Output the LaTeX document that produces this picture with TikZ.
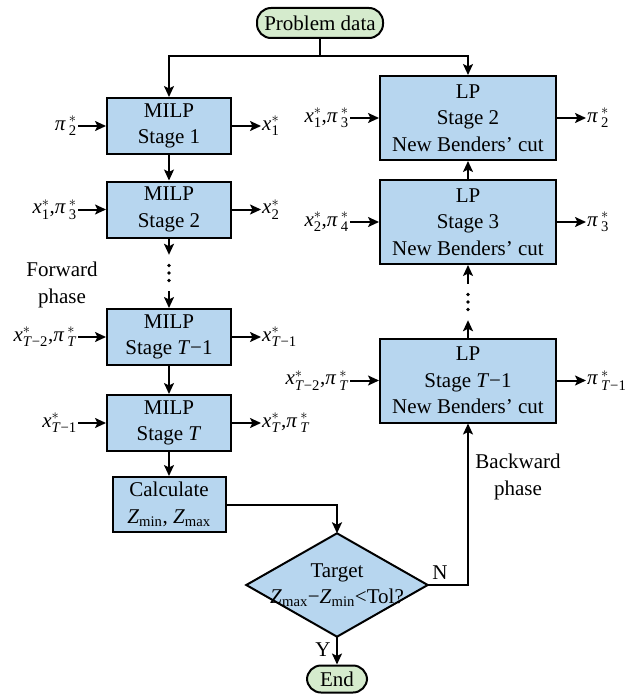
\documentclass[tikz,border=0pt]{standalone}
\usepackage{amsmath}
\usepackage{fontspec}
\setmainfont{Liberation Serif}
\usetikzlibrary{arrows.meta,calc,backgrounds}
\definecolor{boxblue}{HTML}{B7D6EF}
\definecolor{termgreen}{HTML}{D5EBCD}
\newcommand{\sv}[2]{\ensuremath{\text{\itshape #1}^{*}_{\text{#2}}}}
\newcommand{\svp}[2]{\ensuremath{\text{\itshape #1}\mkern3mu{}^{*}_{\text{#2}}}}
\newcommand{\iT}{\textit{T}}
\begin{document}
\begin{tikzpicture}[x=1pt,y=-1pt,
  font=\fontsize{21}{26.5}\selectfont,
  blk/.style={draw, line width=2pt, fill=boxblue, align=center, inner sep=0pt},
  mblk/.style={blk, minimum width=124, minimum height=56},
  lblk/.style={blk, minimum width=176, minimum height=84},
  term/.style={draw, line width=2pt, fill=termgreen, rounded corners=14pt, inner sep=0pt, minimum width=126, minimum height=30},
  lab/.style={inner sep=1pt},
  plain/.style={line width=2pt},
  conn/.style={plain, -{Stealth[length=11pt,width=10pt,inset=2.5pt]}},
  dotbox/.style={inner sep=0pt, minimum width=6, minimum height=36}]
\useasboundingbox (0,0) rectangle (627,695);

% terminals
\node[term] (pd) at (320,23) {Problem data};
\coordinate (split) at (320,56);
\node[term, minimum width=60, minimum height=27] (end) at (337,679) {End};

% forward (MILP) column
\node[mblk] (m1) at (169,126) {MILP\\Stage 1};
\node[mblk] (m2) at (169,209.5) {MILP\\Stage 2};
\node[dotbox] (d1) at (169,273) {};
\node[mblk] (m3) at (169,337) {MILP\\Stage \iT−1};
\node[mblk] (m4) at (169,423) {MILP\\Stage \iT};
\node[blk, minimum width=113, minimum height=55] (calc) at (169,504.5) {Calculate\\\textit{Z}\textsubscript{min}, \textit{Z}\textsubscript{max}};

% decision
\node[inner sep=0pt, minimum width=181, minimum height=103, align=center] (dia) at (337,585)
  {Target\\\textit{Z}\textsubscript{max}−\textit{Z}\textsubscript{min}<Tol?};
\begin{scope}[on background layer]
  \draw[line width=2pt, fill=boxblue] (dia.north) -- (dia.east) -- (dia.south) -- (dia.west) -- cycle;
\end{scope}

% backward (LP) column
\node[lblk] (r2) at (468,118) {LP\\Stage 2\\New Benders’ cut};
\node[lblk] (r3) at (468,222) {LP\\Stage 3\\New Benders’ cut};
\node[dotbox] (d2) at (468,302) {};
\node[lblk] (r4) at (468,380.5) {LP\\Stage \iT−1\\New Benders’ cut};

% dots
\foreach \d in {d1,d2} {
  \fill (\d.center) circle (1.8pt);
  \fill ($(\d.center)+(0,-7.5)$) circle (1.8pt);
  \fill ($(\d.center)+(0,7.5)$) circle (1.8pt);
}

% phase labels and branch labels
\node[align=center] (fw) at (62,285) {Forward\\phase};
\node[align=center] (bw) at (518,477) {Backward\\phase};
\node (nl) at (440,573) {N};
\node (yl) at (323,650) {Y};

% MILP inputs / outputs
\node[lab, anchor=east] (i1) at (78,126) {\svp{π}{2}};
\node[lab, anchor=east] (i2) at (78,209.5) {\sv{x}{1},\svp{π}{3}};
\node[lab, anchor=east] (i3) at (78,337) {\sv{x}{\iT−2},\svp{π}{\iT}};
\node[lab, anchor=east] (i4) at (78,423) {\sv{x}{\iT−1}};
\node[lab, anchor=west] (o1) at (261,126) {\sv{x}{1}};
\node[lab, anchor=west] (o2) at (261,209.5) {\sv{x}{2}};
\node[lab, anchor=west] (o3) at (261,337) {\sv{x}{\iT−1}};
\node[lab, anchor=west] (o4) at (261,423) {\sv{x}{\iT},\svp{π}{\iT}};

% LP inputs / outputs
\node[lab, anchor=east] (j1) at (350,118) {\sv{x}{1},\svp{π}{3}};
\node[lab, anchor=east] (j2) at (350,222) {\sv{x}{2},\svp{π}{4}};
\node[lab, anchor=east] (j3) at (350,380.5) {\sv{x}{\iT−2},\svp{π}{\iT}};
\node[lab, anchor=west] (p1) at (586,118) {\svp{π}{2}};
\node[lab, anchor=west] (p2) at (586,222) {\svp{π}{3}};
\node[lab, anchor=west] (p3) at (586,380.5) {\svp{π}{\iT−1}};

% side arrows
\foreach \a/\b in {i1/m1,i2/m2,i3/m3,i4/m4,j1/r2,j2/r3,j3/r4}
  \draw[conn] (\a.east |- \b.west) -- (\b.west);
\foreach \a/\b in {m1/o1,m2/o2,m3/o3,m4/o4,r2/p1,r3/p2,r4/p3}
  \draw[conn] (\a.east) -- (\b.west |- \a.east);

% main flow
\draw[plain] (pd.south) -- (split);
\draw[conn] (split) -| (m1.north);
\draw[conn] (split) -| (r2.north);
\draw[conn, line width=1.1pt] (m1.south) -- (m2.north);
\draw[conn] (m2.south) -- (d1.north);
\draw[conn] (d1.south) -- (m3.north);
\draw[conn] (m3.south) -- (m4.north);
\draw[conn] (m4.south) -- (calc.north);
\draw[conn] (calc.east) -| (dia.north);
\draw[conn] (dia.south) -- (end.north);
\draw[conn] (dia.east) -| (r4.south);
\draw[conn] (r4.north) -- (d2.south);
\draw[conn] (d2.north) -- (r3.south);
\draw[conn] (r3.north) -- (r2.south);
\end{tikzpicture}
\end{document}
